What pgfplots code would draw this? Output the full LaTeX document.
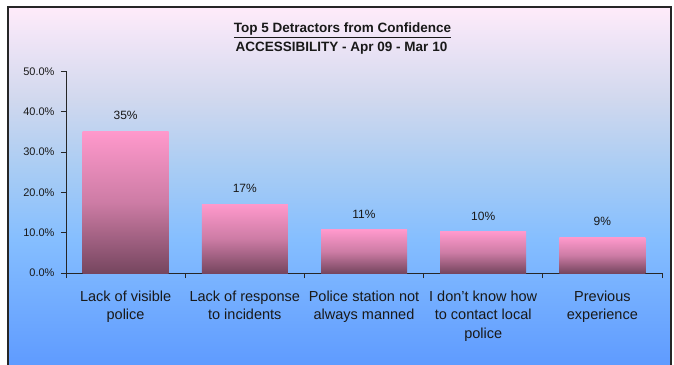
\documentclass[border=0pt]{standalone}
\usepackage{pgfplots}
\pgfplotsset{compat=1.18}
\usepackage{fontspec}
\setmainfont{Liberation Sans}
\definecolor{bgA}{RGB}{255,235,250}
\definecolor{bgB}{RGB}{208,216,238}
\definecolor{bgC}{RGB}{168,204,244}
\definecolor{bgD}{RGB}{133,190,255}
\definecolor{bgE}{RGB}{95,155,255}
\definecolor{barTop}{RGB}{255,153,204}
\definecolor{barMid}{RGB}{205,124,165}
\definecolor{barBot}{RGB}{118,70,95}
\definecolor{txt}{RGB}{25,25,25}
\pgfdeclareverticalshading{bgshade}{100bp}{color(0bp)=(bgE); color(25bp)=(bgE); color(42.5bp)=(bgD); color(52.2bp)=(bgC); color(62bp)=(bgB); color(75bp)=(bgA); color(100bp)=(bgA)}
\pgfplotsset{barstyle/.style={draw=none, top color=barTop, bottom color=barBot, middle color=barMid, bar shift=0pt}}
\begin{document}
\begin{tikzpicture}
\begin{scope}[x=1pt,y=1pt,shift={(-66pt,-91pt)}]
\path[use as bounding box] (0,0) rectangle (674,364);
\fill[white] (0,0) rectangle (674,364);
\shade[shading=bgshade] (8,-1) rectangle (671,357);
\draw[line width=1.6pt, color=black!85] (8,-3) -- (8,357) -- (671,357) -- (671,-3);
\node[anchor=base, text=txt, inner sep=0pt] at (342.5,331) {\fontsize{13.5}{16}\selectfont\bfseries\underline{Top 5 Detractors from Confidence}};
\node[anchor=base, text=txt, inner sep=0pt] at (341.5,312) {\fontsize{13.5}{16}\selectfont\bfseries ACCESSIBILITY - Apr 09 - Mar 10};
\end{scope}
\begin{axis}[
  anchor=south west,
  scale only axis, width=596pt, height=201.5pt,
  xmin=-0.5, xmax=4.5, ymin=0, ymax=50,
  axis lines=left, axis line style={-, black!85, line width=0.8pt},
  tick style={black!85, line width=0.8pt},
  tick align=outside, major tick length=5pt,
  ytick={0,10,20,30,40,50},
  yticklabel={\pgfmathprintnumber[fixed,fixed zerofill,precision=1]{\tick}\%},
  yticklabel style={font=\fontsize{11}{13}\selectfont, text=txt, xshift=-3pt},
  /pgf/number format/assume math mode=true,
  xtick={-0.5,0.5,1.5,2.5,3.5,4.5},
  xticklabels={},
  extra x ticks={0,1,2,3,4},
  extra x tick labels={Lack of visible\\police, Lack of response\\to incidents, Police station not\\always manned, I don't know how\\to contact local\\police, Previous\\experience},
  extra x tick style={major tick length=0pt, xticklabel style={align=center, font=\fontsize{14.5}{18.5}\selectfont, text=txt, yshift=-14pt}},
  ybar, bar width=86pt,
  nodes near coords={\pgfmathprintnumber[fixed,precision=0]{\pgfplotspointmeta}\%},
  every node near coord/.append style={font=\fontsize{12}{14}\selectfont, text=txt, yshift=8pt},
  clip=false,
]
\addplot[barstyle] coordinates {(0,35.2)};
\addplot[barstyle] coordinates {(1,17.1)};
\addplot[barstyle] coordinates {(2,10.7)};
\addplot[barstyle] coordinates {(3,10.2)};
\addplot[barstyle] coordinates {(4,8.86)};
\end{axis}
\end{tikzpicture}
\end{document}
